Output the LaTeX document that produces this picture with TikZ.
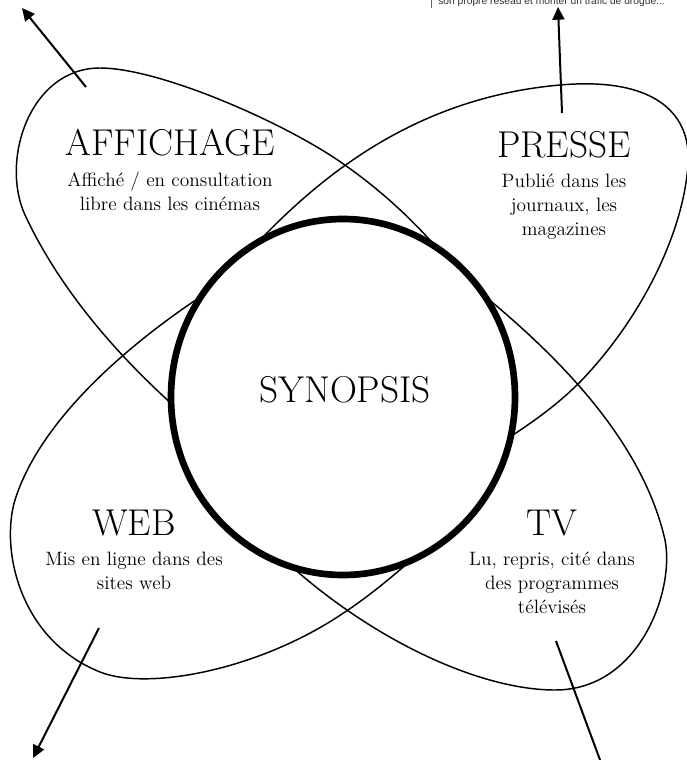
\documentclass[tikz,border=0pt]{standalone}
\usepackage{fontspec}
\usepackage{tikz}
\usetikzlibrary{positioning,shapes.geometric,arrows.meta}
\newfontfamily\notefont{Liberation Sans}

\begin{document}
\begin{tikzpicture}[
x=0.75pt, y=-0.75pt,
node distance = 12pt,
    petal/.style = {line width=1.1pt},
      hub/.style = {ellipse, draw, line width=5pt, fill=white,
                    minimum width=258pt, minimum height=267pt},
    title/.style = {font=\fontsize{28}{32}\selectfont, inner sep=0pt},
   legend/.style = {align=center, font=\fontsize{14.5}{18}\selectfont, inner sep=0pt},
  pointer/.style = {line width=1.5pt, -{Triangle[length=9.5pt,width=9pt]}}
                    ]
\useasboundingbox (0,0) rectangle (686,760);

% the four petals, their inner ends hidden under the hub
\draw[petal] (190,420) .. controls (120,360) and (60,290) .. (25,215)
             .. controls (0,160) and (30,68) .. (100,68)
             .. controls (160,68) and (285,123) .. (342,163)
             .. controls (388,195) and (430,235) .. (462,280);
\draw[petal] (225,278) .. controls (290,205) and (390,100) .. (560,85)
             .. controls (650,77) and (692,110) .. (688,165)
             .. controls (683,235) and (640,320) .. (580,382)
             .. controls (550,412) and (520,430) .. (495,447);
\draw[petal] (225,281) .. controls (130,340) and (40,420) .. (15,500)
             .. controls (0,550) and (20,640) .. (100,672)
             .. controls (148,691) and (260,670) .. (345,612)
             .. controls (375,592) and (400,570) .. (425,548);
\draw[petal] (465,280) .. controls (540,340) and (640,430) .. (665,540)
             .. controls (675,590) and (640,690) .. (555,690)
             .. controls (480,690) and (370,640) .. (280,556);

\node[hub] (hub) at (343,397) {};
\node[title] (synopsis) at (345,390) {SYNOPSIS};

\node[title, anchor=base] (affichage) at (170,155) {AFFICHAGE};
\node[legend, below=of affichage] (affichage-txt) {Affiché / en consultation\\libre dans les cinémas};
\node[title, anchor=base] (presse) at (564,157) {PRESSE};
\node[legend, below=of presse] (presse-txt) {Publié dans les\\journaux, les\\magazines};
\node[title, anchor=base] (web) at (134,535) {WEB};
\node[legend, below=of web] (web-txt) {Mis en ligne dans des\\sites web};
\node[title, anchor=base] (tv) at (552,535) {TV};
\node[legend, below=of tv] (tv-txt) {Lu, repris, cité dans\\des programmes\\télévisés};

% cut-off note at the top
\node[anchor=base west, inner sep=0pt, text=black!80,
      font=\notefont\fontsize{7.7}{9}\selectfont] (note) at (438,4.5)
      {son propre réseau et monter un trafic de drogue...};
\draw[black!60, line width=0.6pt] (431,0) -- (431,8);

% arrows
\coordinate (affichage-from) at (86,87);
\coordinate (affichage-to)   at (22,8);
\coordinate (presse-from)    at (562,113);
\coordinate (presse-to)      at (558,7);
\coordinate (web-from)       at (99,628);
\coordinate (web-to)         at (33,758);
\coordinate (tv-from)        at (556,641);
\coordinate (tv-to)          at (603,768);
\draw[pointer] (affichage-from) -- (affichage-to);
\draw[pointer] (presse-from) -- (presse-to);
\draw[pointer] (web-from) -- (web-to);
\draw[line width=1.5pt] (tv-from) -- (tv-to);
\end{tikzpicture}
\end{document}
